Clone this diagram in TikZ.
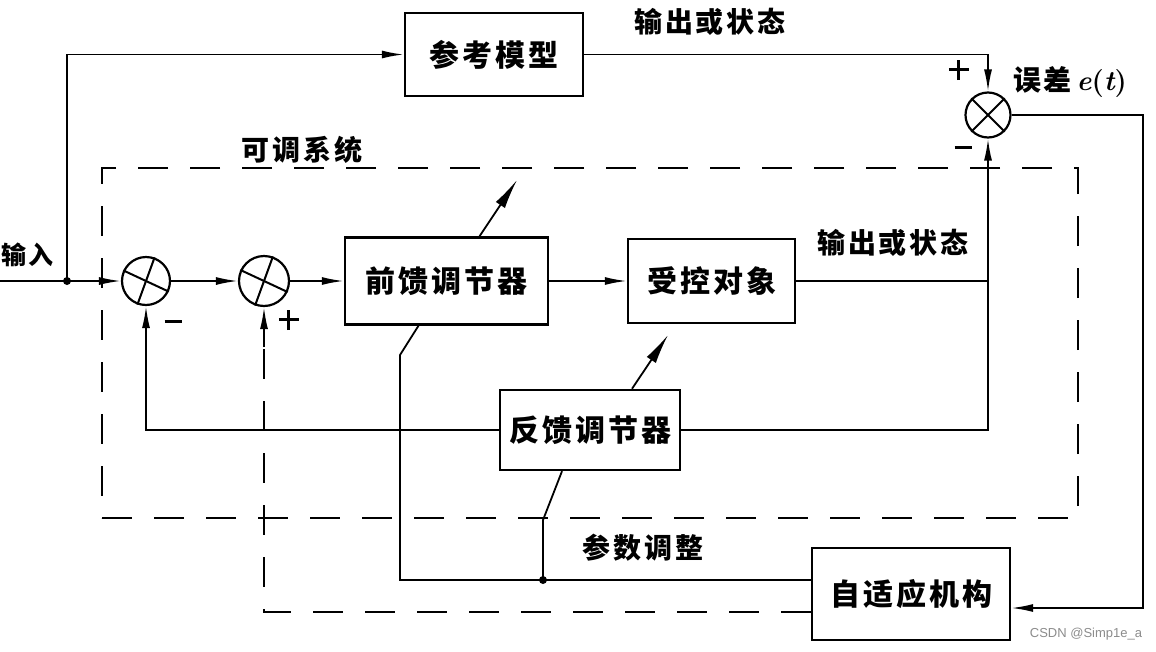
\documentclass[tikz,border=0pt]{standalone}
\usepackage{fontspec}
\newfontfamily\cjk[LetterSpace=10]{Noto Sans CJK SC}
\usetikzlibrary{arrows.meta,calc}
\newcommand{\mybar}{\rule[0pt]{17pt}{3pt}}
\newcommand{\myplus}{\makebox[20pt]{\rule[-9pt]{3pt}{20pt}\hspace{-11.5pt}\rule[0pt]{20pt}{3pt}}}
\begin{document}
\begin{tikzpicture}[x=1pt,y=-1pt,
  wire/.style={line width=1.8pt},
  arr/.style={wire,-{Latex[length=22pt,width=8pt]}},
  blk/.style={draw,line width=2.4pt,inner sep=0pt,font=\cjk\bfseries\fontsize{30}{30}\selectfont},
  sumj/.style={draw,circle,line width=2.2pt,inner sep=0pt},
  lbl/.style={font=\cjk\bfseries\fontsize{28}{28}\selectfont,inner sep=0pt},
  sgn/.style={inner sep=0pt},
  dsh/.style={line width=1.8pt,dash pattern=on 30pt off 22pt},
  dot/.style={circle,fill,inner sep=0pt,minimum size=8pt},
  adj/.style={wire,-{Latex[length=30pt,width=11pt]}}]
\useasboundingbox (0,0) rectangle (1156,651);
\fill[white] (0,0) rectangle (1156,651);

% blocks
\node[blk,minimum width=178pt,minimum height=83pt] (ref) at (494,54.5) {参考模型};
\node[blk,minimum width=203pt,minimum height=87pt] (ff) at (446.5,281) {前馈调节器};
\node[blk,minimum width=167pt,minimum height=84pt] (plant) at (711.5,281) {受控对象};
\node[blk,minimum width=180pt,minimum height=80pt] (fb) at (590,430) {反馈调节器};
\node[blk,minimum width=198pt,minimum height=92pt] (ad) at (911,594) {自适应机构};

% summing junctions
\node[sumj,minimum size=48pt] (s1) at (146,281) {};
\node[sumj,minimum size=50pt] (s2) at (264,281) {};
\node[sumj,minimum size=45pt] (se) at (988,115) {};
\foreach \s/\a/\b in {s1/-25/70,s2/-25/70,se/45/135}{
  \draw[line width=2pt] (\s.\a) -- (\s.\a+180);
  \draw[line width=2pt] (\s.\b) -- (\s.\b+180);
}

% dashed adjustable system
\node[draw,dsh,minimum width=976pt,minimum height=350pt,inner sep=0pt] (sys) at (590,343) {};

% labels
\node[lbl] (lo1) at (710,22) {输出或状态};
\node[lbl,anchor=west] (lerr) at (1013,82) {误差\,\fontspec{Latin Modern Roman}\bfseries\itshape e\upshape(\itshape t\upshape)};
\node[lbl] (lsys) at (302,150) {可调系统};
\node[lbl,anchor=west,font=\cjk\bfseries\fontsize{25}{25}\selectfont] (lin) at (1,255) {输入};
\node[lbl] (lo2) at (893,243) {输出或状态};
\node[lbl] (lpar) at (643,548) {参数调整};
\node[sgn] (pe) at (963,70) {\myplus};
\node[sgn] (me) at (963,147) {\mybar};
\node[sgn] (m1) at (173,321) {\mybar};
\node[sgn] (p2) at (293,320) {\myplus};
\node[font=\fontspec{Liberation Sans}\fontsize{13}{13}\selectfont,text=black!45,inner sep=0pt] (wm) at (1086,634) {CSDN @Simp1e\_a};

% coordinates
\coordinate (inL) at (0,281);
\coordinate (inD) at (67,281);
\coordinate (outJ) at (988,281);
\coordinate (eR) at (1143,400);
\coordinate (pK) at (400,355);
\coordinate (pD) at (543,580);
\coordinate (pM) at (543,520);
\coordinate (ffA) at (517,180);
\coordinate (fbA) at (668,335);

% main forward path
\draw[arr] (inL) -- (s1.west);
\node[dot] (dIn) at (inD) {};
\draw[arr] (inD) |- (ref.west);
\draw[arr] (s1.east) -- (s2.west);
\draw[arr] (s2.east) -- (ff.west);
\draw[arr] (ff.east) -- (plant.west);
\draw[wire] (plant.east) -- (outJ);
\draw[arr] (ref.east) -| (se.north);
\draw[arr] (fb.east) -| (se.south);
\draw[arr] (fb.west) -| (s1.south);

% error to adaptation
\draw[arr] (se.east) -| (eR) |- ($(ad.east)+(0,14)$);

% parameter adjustment
\draw[wire] ($(ad.west)+(0,-14)$) -| (pK) -- ($(ff.south)+(-28,0)$);
\node[dot] (dP) at (pD) {};
\draw[wire] (pD) -- (pM) -- ($(fb.south)+(-28,0)$);

% adjustable parameter marks
\draw[adj] ($(ff.north)+(33,0)$) -- (ffA);
\draw[adj] ($(fb.north)+(42,0)$) -- (fbA);

% dashed signal from adaptation to second junction
\draw[dsh] ($(ad.west)+(0,18)$) -| ($(s2.south)+(0,40)$);
\draw[arr] ($(s2.south)+(0,40)$) -- (s2.south);
\end{tikzpicture}
\end{document}
